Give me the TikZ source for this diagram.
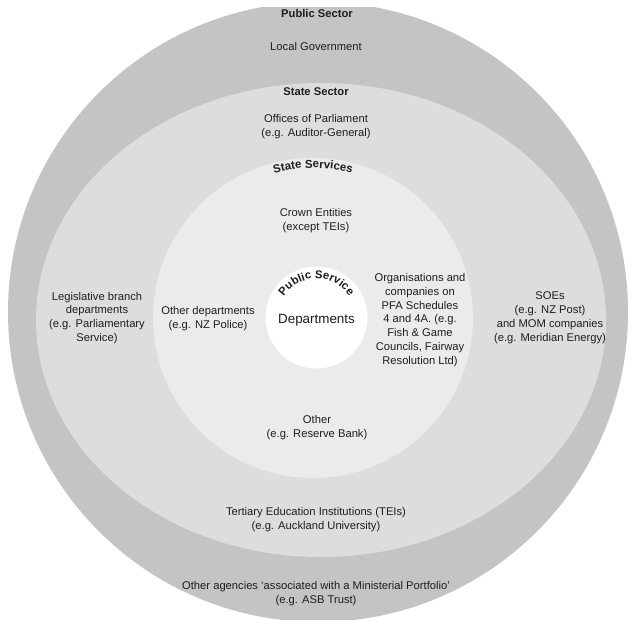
\documentclass[tikz,border=0pt]{standalone}
\usepackage{fontspec}
\setmainfont{Liberation Sans}
\usetikzlibrary{decorations.text}
\definecolor{ringA}{RGB}{196,196,196}
\definecolor{ringB}{RGB}{221,221,221}
\definecolor{ringC}{RGB}{235,235,235}
\definecolor{txt}{RGB}{30,30,30}
\begin{document}
\begin{tikzpicture}[x=1pt,y=1pt,
  lbl/.style={align=center, text=txt, inner sep=0pt, font=\fontsize{11.2}{13.9}\selectfont},
  hdr/.style={align=center, text=txt, inner sep=0pt, font=\bfseries\fontsize{11.2}{13}\selectfont}]
\useasboundingbox (0,0) rectangle (634,625);
% outer ring (Public Sector), clipped top and bottom
\begin{scope}
  \clip (0,6) rectangle (634,617);
  \fill[ringA] (318,313) circle (310);
\end{scope}
% State Sector
\fill[ringB] (321,305) ellipse [x radius=285, y radius=237];
% State Services
\fill[ringC] (313,307) circle (160);
% Public Service
\fill[white] (316.5,307.5) circle (51);

% curved labels
\path[decorate, decoration={text along path, text align=center,
  text={|\bfseries\fontsize{11.5}{13}\selectfont\color{txt}|State Services}}]
  (313,307) ++(120:150) arc[start angle=120, end angle=60, radius=150];
\path[decorate, decoration={text along path, text align=center,
  text={|\bfseries\fontsize{11.3}{13}\selectfont\color{txt}|Public Service}}]
  (316.5,307.5) ++(165:39) arc[start angle=165, end angle=15, radius=39];

% labels
\node[hdr] (ps) at (317,612) {Public Sector};
\node[lbl] (lg) at (316,579) {Local Government};
\node[hdr] (ss) at (316,533) {State Sector};
\node[lbl] (op) at (316,498) {Offices of Parliament\\(e.g. Auditor-General)};
\node[lbl] (ce) at (316,404) {Crown Entities\\(except TEIs)};
\node[lbl] (od) at (208,306) {Other departments\\(e.g. NZ Police)};
\node[lbl, font=\fontsize{13.4}{15}\selectfont] (dp) at (316.5,305) {Departments};
\node[lbl] (org) at (420,305) {Organisations and\\companies on\\PFA Schedules\\4 and 4A. (e.g.\\Fish \& Game\\Councils, Fairway\\Resolution Ltd)};
\node[lbl] (soe) at (550,307) {SOEs\\(e.g. NZ Post)\\and MOM companies\\(e.g. Meridian Energy)};
\node[lbl] (leg) at (97,307) {Legislative branch\\departments\\(e.g. Parliamentary\\Service)};
\node[lbl] (oth) at (317,197) {Other\\(e.g. Reserve Bank)};
\node[lbl] (tei) at (316,105) {Tertiary Education Institutions (TEIs)\\(e.g. Auckland University)};
\node[lbl] (oa) at (316,31) {Other agencies ‘associated with a Ministerial Portfolio’\\(e.g. ASB Trust)};
\end{tikzpicture}
\end{document}
